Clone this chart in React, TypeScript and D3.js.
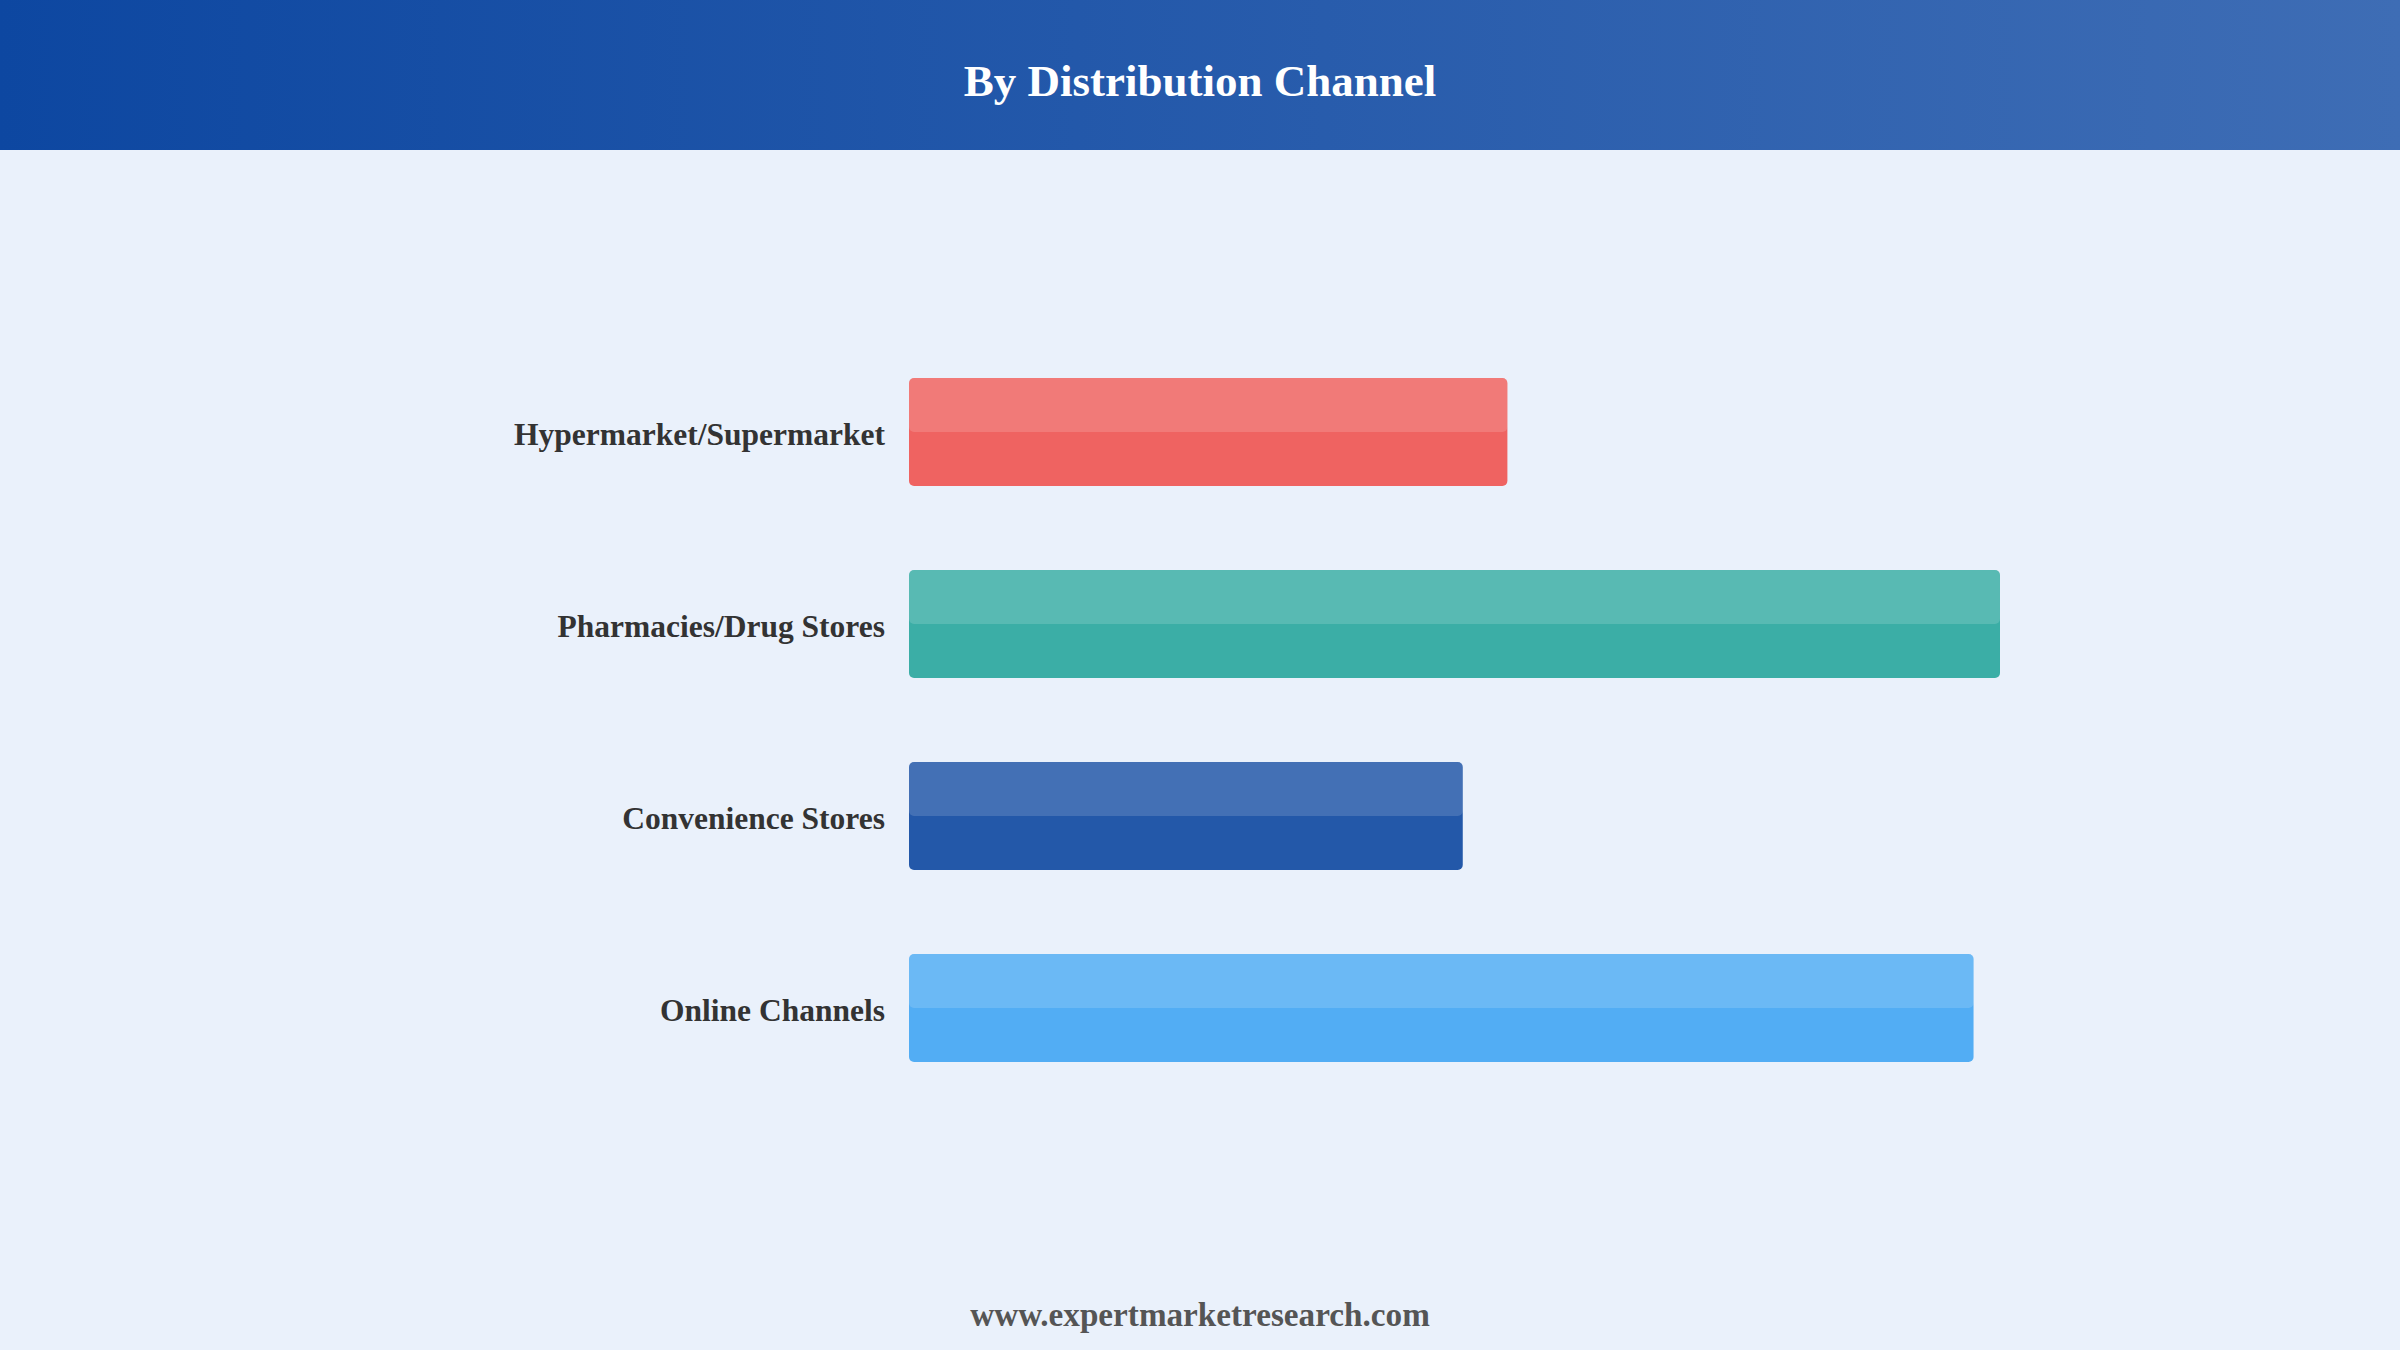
import React from "react";
import * as d3 from "d3";

// chart data
const channels = [
  "Hypermarket/Supermarket",
  "Pharmacies/Drug Stores",
  "Convenience Stores",
  "Online Channels",
];
const shares = [18.1, 33.0, 16.75, 32.2];
const barColors = ["#EF6361", "#3BAEA6", "#2358A9", "#52ADF4"];

const title = "By Distribution Channel";
const footer = "www.expertmarketresearch.com";

const W = 2400;
const H = 1350;
const HEADER_H = 150;
const FONT = "'Liberation Serif', 'Times New Roman', Times, serif";

export default function App() {
  const x = d3.scaleLinear().domain([0, 33]).range([909, 2000]);
  const y = d3
    .scaleBand<string>()
    .domain(channels)
    .range([336, 1104])
    .paddingInner(0.4375)
    .paddingOuter(0.21875);
  const bw = y.bandwidth();

  return (
    <>
      <style>{`body{margin:0;}`}</style>
      <svg width={W} height={H} style={{ display: "block" }}>
        <defs>
          <linearGradient id="hdr" x1="0" x2="1" y1="0" y2="0">
            <stop offset="0%" stopColor="#0D47A1" />
            <stop offset="100%" stopColor="#3E6DB5" />
          </linearGradient>
        </defs>

        {/* background */}
        <rect x={0} y={0} width={W} height={H} fill="#EAF1FB" />

        {/* header band */}
        <rect x={0} y={0} width={W} height={HEADER_H} fill="url(#hdr)" />
        <text
          x={W / 2}
          y={96}
          textAnchor="middle"
          fontFamily={FONT}
          fontWeight="bold"
          fontSize={45}
          fill="#ffffff"
        >
          {title}
        </text>

        {/* bars */}
        {channels.map((c, i) => {
          const y0 = y(c)!;
          const x0 = x(0);
          const w = x(shares[i]) - x0;
          return (
            <g key={c}>
              <text
                x={x0 - 24}
                y={y0 + bw / 2}
                dy="0.4em"
                textAnchor="end"
                fontFamily={FONT}
                fontWeight="bold"
                fontSize={31.5}
                fill="#333333"
              >
                {c}
              </text>
              <rect
                x={x0}
                y={y0}
                width={w}
                height={bw}
                rx={5}
                ry={5}
                fill={barColors[i]}
              />
              {/* lighter top half */}
              <rect
                x={x0}
                y={y0}
                width={w}
                height={bw / 2}
                rx={5}
                ry={5}
                fill="#ffffff"
                fillOpacity={0.15}
              />
            </g>
          );
        })}

        {/* footer */}
        <text
          x={W / 2}
          y={1326}
          textAnchor="middle"
          fontFamily={FONT}
          fontWeight="bold"
          fontSize={33.2}
          fill="#555555"
        >
          {footer}
        </text>
      </svg>
    </>
  );
}
